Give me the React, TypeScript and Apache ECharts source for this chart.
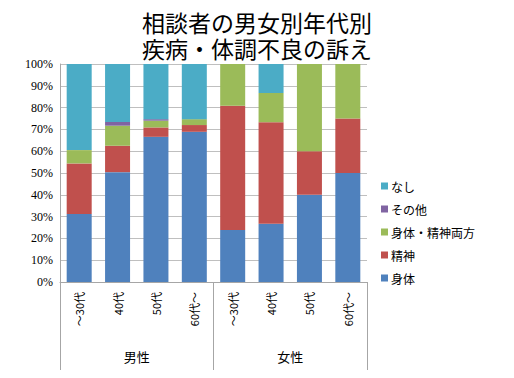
import React, { useEffect, useRef } from "react";
import * as echarts from "echarts";

const ageCategories = ["～30代", "40代", "50代", "60代～", "～30代", "40代", "50代", "60代～"];
const genderGroups = ["男性", "女性"];
const yTicks = { min: 0, max: 100, interval: 10 };
const titleLines = ["相談者の男女別年代別", "疾病・体調不良の訴え"];

const shintai = [31.2, 50.4, 66.6, 68.9, 23.8, 26.7, 40.0, 50.0];
const seishin = [23.2, 12.1, 4.3, 3.1, 57.1, 46.6, 20.0, 25.0];
const ryouhou = [6.1, 9.2, 3.1, 2.7, 19.1, 13.4, 40.0, 25.0];
const sonota = [0, 1.7, 0.7, 0, 0, 0, 0, 0];
const nashi = [39.5, 26.6, 25.3, 25.3, 0, 13.3, 0, 0];

const seriesDefs = [
  { name: "身体", data: shintai, color: "#4F81BD" },
  { name: "精神", data: seishin, color: "#C0504D" },
  { name: "身体・精神両方", data: ryouhou, color: "#9BBB59" },
  { name: "その他", data: sonota, color: "#8064A2" },
  { name: "なし", data: nashi, color: "#4BACC6" },
];
const legendOrder = ["なし", "その他", "身体・精神両方", "精神", "身体"];

export default function App() {
  const ref = useRef<HTMLDivElement>(null);
  useEffect(() => {
    if (!ref.current) return;
    const chart = echarts.init(ref.current, null, { renderer: "svg" });
    chart.setOption({
      animation: false,
      backgroundColor: "#ffffff",
      graphic: titleLines.map((t, i) => ({
        type: "text",
        left: "center",
        top: 10 + i * 26,
        style: {
          text: t,
          fontFamily: "Noto Sans CJK JP",
          fontSize: 23,
          lineHeight: 24,
          fill: "#000",
        },
      })),
      legend: {
        data: legendOrder,
        orient: "vertical",
        left: 376,
        top: 175,
        itemWidth: 7,
        itemHeight: 7,
        itemGap: 11,
        icon: "rect",
        textStyle: { fontFamily: "Noto Sans CJK JP", fontSize: 12, color: "#000", padding: [0, 0, 0, -2] },
      },
      grid: { left: 60, right: 147, top: 64, bottom: 96, containLabel: false },
      xAxis: [
        {
          type: "category",
          data: ageCategories,
          axisLine: { lineStyle: { color: "#A6A6A6" } },
          axisTick: { show: false },
          axisLabel: {
            rotate: 90,
            margin: 10,
            interval: 0,
            fontFamily: "Noto Sans CJK JP",
            fontSize: 11,
            color: "#000",
          },
        },
        {
          type: "category",
          data: genderGroups,
          position: "bottom",
          axisLine: { show: false },
          axisTick: { show: true, length: 88, interval: 0, lineStyle: { color: "#A6A6A6" } },
          axisLabel: {
            margin: 68,
            interval: 0,
            fontFamily: "Noto Sans CJK JP",
            fontSize: 13,
            color: "#000",
          },
        },
      ],
      yAxis: {
        type: "value",
        min: yTicks.min,
        max: yTicks.max,
        interval: yTicks.interval,
        axisLine: { show: true, lineStyle: { color: "#A6A6A6" } },
        axisTick: { show: false },
        splitLine: { lineStyle: { color: "#BFBFBF" } },
        axisLabel: {
          formatter: "{value}%",
          fontFamily: "Liberation Serif, DejaVu Serif, serif",
          fontSize: 12,
          color: "#000",
          margin: 7,
        },
      },
      series: seriesDefs.map((s) => ({
        name: s.name,
        type: "bar",
        stack: "total",
        xAxisIndex: 0,
        barWidth: 25,
        data: s.data,
        itemStyle: { color: s.color },
      })),
    });
    return () => chart.dispose();
  }, []);
  return <div ref={ref} style={{ width: 514, height: 378, position: "absolute", left: 0, top: 0 }} />;
}
